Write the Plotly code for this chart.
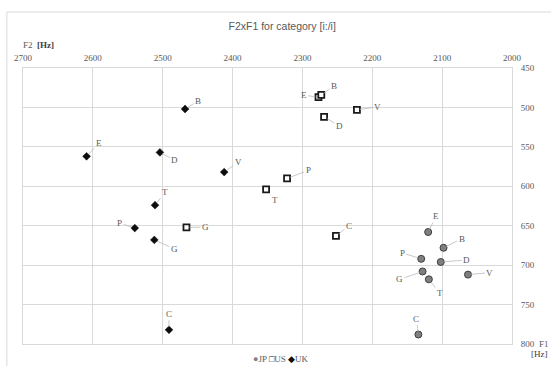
import plotly.graph_objects as go

# Vowel formant measurements for category [i:/i] (Hz)
vowels_jp = ["E", "B", "P", "D", "G", "T", "V", "C"]
f2_jp = [2120, 2098, 2130, 2102, 2128, 2119, 2063, 2134]
f1_jp = [658, 678, 692, 696, 708, 718, 712, 788]

vowels_us = ["E", "B", "D", "V", "P", "T", "G", "C"]
f2_us = [2277, 2273, 2269, 2222, 2322, 2352, 2466, 2252]
f1_us = [487, 484, 512, 503, 590, 604, 652, 663]

vowels_uk = ["B", "E", "D", "V", "T", "P", "G", "C"]
f2_uk = [2468, 2609, 2504, 2412, 2511, 2540, 2512, 2491]
f1_uk = [502, 562, 557, 582, 624, 653, 668, 782]

f2_ticks = [2700, 2600, 2500, 2400, 2300, 2200, 2100, 2000]
f1_ticks = [450, 500, 550, 600, 650, 700, 750, 800]

# Callout placement (pixel offset of each label from its marker)
callout_jp = {"E": (8, -16), "B": (18, -9), "P": (-19, -6), "D": (26, -2),
              "G": (-23, 8), "T": (11, 14), "V": (22, -2), "C": (-2, -16)}
callout_us = {"E": (-15, -2), "B": (13, -9), "D": (15, 9), "V": (21, -3),
              "P": (21, -8), "T": (9, 11), "G": (19, 0), "C": (13, -10)}
callout_uk = {"B": (13, -8), "E": (12, -13), "D": (15, 8), "V": (14, -10),
              "T": (10, -13), "P": (-15, -5), "G": (20, 9), "C": (0, -16)}

SERIF = "Liberation Serif, Times New Roman, serif"
TXT = "#595959"
GRID = "#d9d9d9"

fig = go.Figure()

fig.add_trace(go.Scatter(
    x=f2_jp, y=f1_jp, mode="markers", name="JP",
    marker=dict(symbol="circle", size=7, color="#7f7f7f",
                line=dict(color="#3f3f3f", width=1)),
))
fig.add_trace(go.Scatter(
    x=f2_us, y=f1_us, mode="markers", name="US",
    marker=dict(symbol="square", size=6, color="white",
                line=dict(color="#1a1a1a", width=1.8)),
))
fig.add_trace(go.Scatter(
    x=f2_uk, y=f1_uk, mode="markers", name="UK",
    marker=dict(symbol="diamond", size=6, color="#0d0d0d",
                line=dict(color="#0d0d0d", width=0.5)),
))

annotations = []
for names, xs, ys, offs in [(vowels_jp, f2_jp, f1_jp, callout_jp),
                            (vowels_us, f2_us, f1_us, callout_us),
                            (vowels_uk, f2_uk, f1_uk, callout_uk)]:
    for n, xv, yv in zip(names, xs, ys):
        ax, ay = offs[n]
        annotations.append(dict(
            x=xv, y=yv, xref="x", yref="y", text=n,
            showarrow=True, arrowhead=0, arrowwidth=0.7, arrowcolor="#b0b0b0",
            ax=ax, ay=ay, standoff=3,
            font=dict(family=SERIF, size=9, color=TXT),
        ))

# Axis captions
annotations.append(dict(
    x=-0.004, y=1.083, xref="paper", yref="paper", xanchor="left", yanchor="middle",
    text="F2 &nbsp;<b><span style='color:#404040'>[Hz]</span></b>", showarrow=False,
    font=dict(family=SERIF, size=9, color=TXT),
))
annotations.append(dict(
    x=1.065, y=0.0, xref="paper", yref="paper", xanchor="center", yanchor="middle",
    text="F1", showarrow=False, font=dict(family=SERIF, size=9, color=TXT),
))
annotations.append(dict(
    x=1.057, y=-0.036, xref="paper", yref="paper", xanchor="center", yanchor="middle",
    text="[Hz]", showarrow=False, font=dict(family=SERIF, size=9, color="#404040"),
))

# Legend row
annotations.append(dict(
    x=0.5276, y=-0.054, xref="paper", yref="paper", xanchor="center", yanchor="middle",
    text=("<span style='color:#7f7f7f'>●</span>JP "
          "<b><span style='color:#1a1a1a'>□</span></b>US "
          "<span style='color:#0d0d0d'>◆</span>UK"),
    showarrow=False, font=dict(family=SERIF, size=9, color=TXT),
))

shapes = [
    # chart area frame (top and left edges)
    dict(type="line", xref="paper", yref="paper", x0=-0.033, x1=1.2, y0=1.203, y1=1.203,
         line=dict(color="#d9d9d9", width=1)),
    dict(type="line", xref="paper", yref="paper", x0=-0.033, x1=-0.033, y0=1.203, y1=-0.2,
         line=dict(color="#d9d9d9", width=1)),
]

fig.update_layout(
    width=551, height=366,
    margin=dict(l=23, r=39, t=68, b=22),
    paper_bgcolor="white", plot_bgcolor="white",
    showlegend=False,
    title=dict(text="F2xF1 for category [i:/i]", x=0.53, xref="paper",
               y=1 - 26.6 / 366, yref="container", xanchor="center", yanchor="middle",
               font=dict(family="Liberation Sans, Arial, sans-serif", size=10.5, color=TXT)),
    xaxis=dict(side="top", range=[2700, 2000], tickvals=f2_ticks,
               showgrid=True, gridcolor=GRID, gridwidth=1,
               showline=True, mirror=True, linecolor=GRID, linewidth=1,
               zeroline=False, ticks="", ticklabelstandoff=2,
               tickfont=dict(family=SERIF, size=9, color=TXT)),
    yaxis=dict(side="right", range=[800, 450], tickvals=f1_ticks,
               showgrid=True, gridcolor=GRID, gridwidth=1,
               showline=True, mirror=True, linecolor=GRID, linewidth=1,
               zeroline=False, ticks="", ticklabelstandoff=6,
               tickfont=dict(family=SERIF, size=9, color=TXT)),
    annotations=annotations,
    shapes=shapes,
)

fig.write_html("out.html")
